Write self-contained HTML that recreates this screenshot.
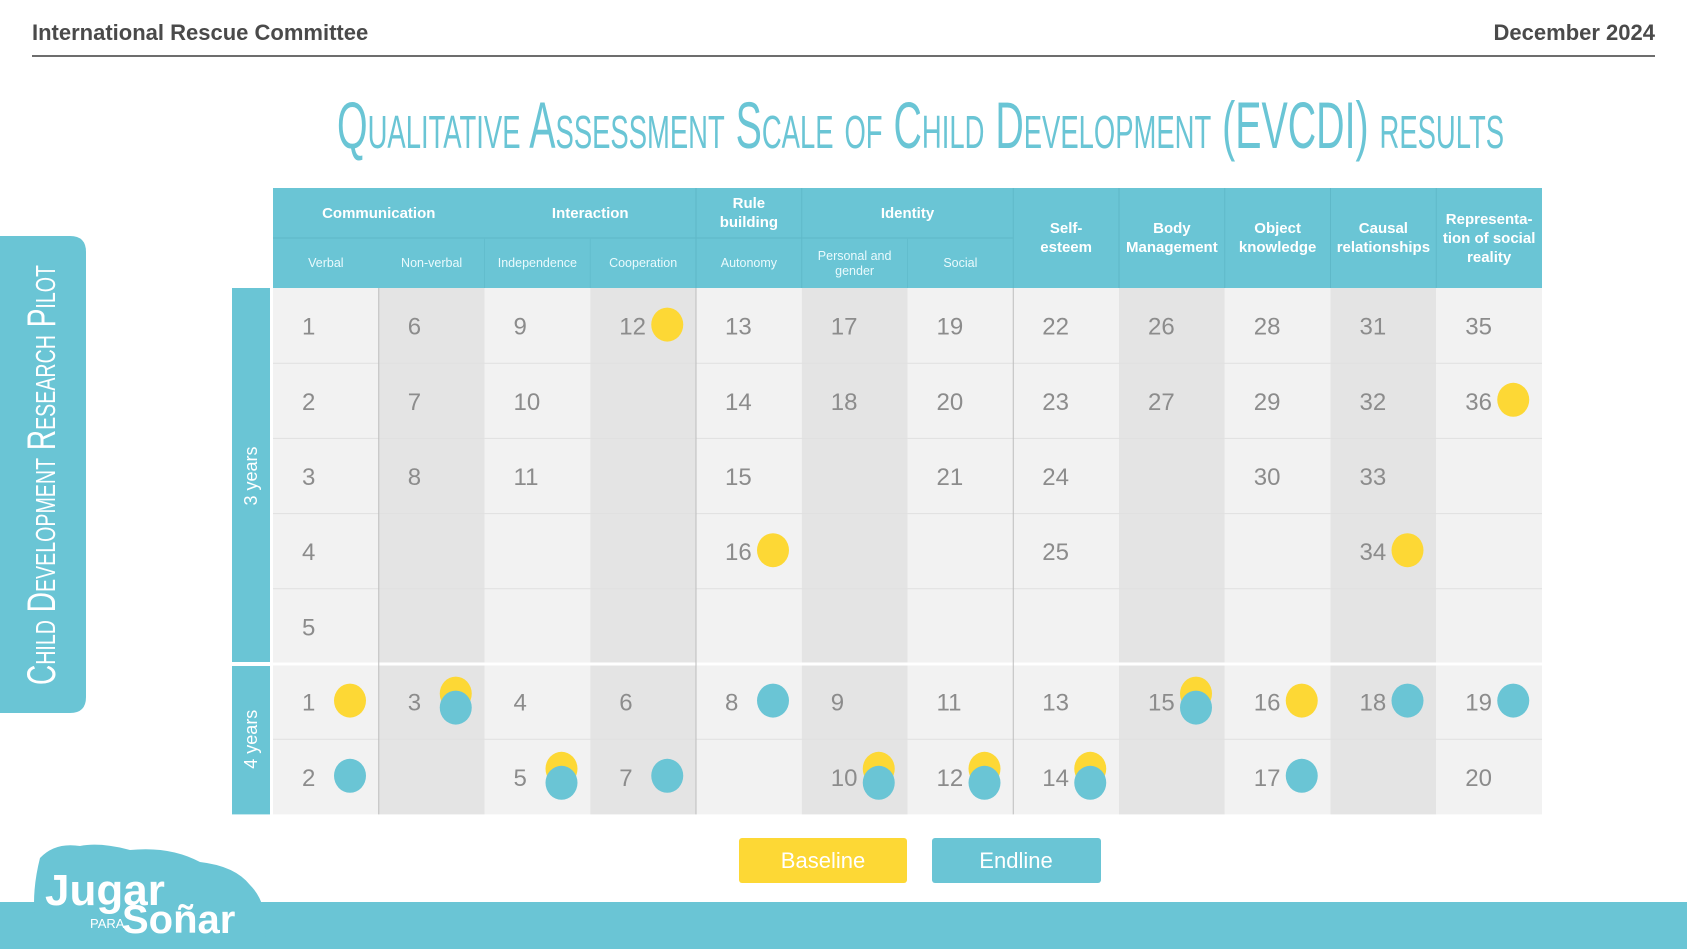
<!DOCTYPE html>
<html><head><meta charset="utf-8"><style>
html,body{margin:0;padding:0;background:#fff;width:1687px;height:949px;overflow:hidden;font-family:"Liberation Sans",sans-serif}
svg{display:block}
</style></head><body>
<svg id="s" width="1687" height="949" viewBox="0 0 1687 949" xmlns="http://www.w3.org/2000/svg">
<text x="32" y="40" font-size="22" font-weight="bold" fill="#4a4a4a">International Rescue Committee</text>
<text x="1655" y="40" font-size="22" font-weight="bold" fill="#4a4a4a" text-anchor="end">December 2024</text>
<rect x="32" y="55" width="1623" height="2" fill="#6d6d6d"/>
<text x="337" y="148" font-size="66" fill="#6ac5d5" textLength="1167" lengthAdjust="spacingAndGlyphs" style="font-variant:small-caps">Qualitative Assessment Scale of Child Development (EVCDI) results</text>
<path d="M0 236 H70 Q86 236 86 252 V697 Q86 713 70 713 H0 Z" fill="#6ac5d5"/>
<text transform="translate(55,685) rotate(-90)" font-size="40" fill="#fff" textLength="420" lengthAdjust="spacingAndGlyphs" style="font-variant:small-caps">Child Development Research Pilot</text>
<rect x="0" y="902" width="1687" height="47" fill="#6ac5d5"/>
<path d="M40 945 Q28 905 40 858 Q55 842 80 846 Q100 842 130 850 Q170 846 200 862 Q235 866 250 885 Q270 905 265 945 Z" fill="#6ac5d5"/>
<text x="45" y="905" font-size="44" font-weight="bold" fill="#fff">Jugar</text>
<text x="90" y="928" font-size="13" fill="#fff">PARA</text>
<text x="122" y="933" font-size="40" font-weight="bold" fill="#fff">Soñar</text>
<g id="tbl"></g>
<rect x="739" y="838" width="168" height="45" rx="3" fill="#fdd835"/>
<text x="823" y="868" font-size="22" fill="#fff" text-anchor="middle">Baseline</text>
<rect x="932" y="838" width="169" height="45" rx="3" fill="#6ac5d5"/>
<text x="1016" y="868" font-size="22" fill="#fff" text-anchor="middle">Endline</text>
</svg>
<script>
const columns=["Verbal","Non-verbal","Independence","Cooperation","Autonomy","Personal and gender","Social","Self-esteem","Body Management","Object knowledge","Causal relationships","Representation of social reality"];
const groups=[["Communication",0,2],["Interaction",2,4],["Rule building",4,5],["Identity",5,7]];
const fullHeaders=[[7,["Self-","esteem"]],[8,["Body","Management"]],[9,["Object","knowledge"]],[10,["Causal","relationships"]],[11,["Representa-","tion of social","reality"]]];
const shade=[0,1,0,1,0,1,0,0,1,0,1,0];
// items: [number, status] status: "" none, "B" baseline, "E" endline, "BE" both
const items3=[[[1,""],[2,""],[3,""],[4,""],[5,""]],[[6,""],[7,""],[8,""]],[[9,""],[10,""],[11,""]],[[12,"B"]],[[13,""],[14,""],[15,""],[16,"B"]],[[17,""],[18,""]],[[19,""],[20,""],[21,""]],[[22,""],[23,""],[24,""],[25,""]],[[26,""],[27,""]],[[28,""],[29,""],[30,""]],[[31,""],[32,""],[33,""],[34,"B"]],[[35,""],[36,"B"]]];
const items4=[[[1,"B"],[2,"E"]],[[3,"BE"]],[[4,""],[5,"BE"]],[[6,""],[7,"E"]],[[8,"E"]],[[9,""],[10,"BE"]],[[11,""],[12,"BE"]],[[13,""],[14,"BE"]],[[15,"BE"]],[[16,"B"],[17,"E"]],[[18,"E"]],[[19,"E"],[20,""]]];
const rows3=5, rows4=2;
const X0=273,CW=105.75,HT=188,HM=238,HB=288,RH=75.2;
const g=document.getElementById('tbl');const NS="http://www.w3.org/2000/svg";
function mk(t,a,txt){const e=document.createElementNS(NS,t);for(const k in a)e.setAttribute(k,a[k]);if(txt!=null)e.textContent=txt;g.appendChild(e);return e;}
const cx=i=>X0+i*CW;
const ry=r=>HB+r*RH;
const T="#6ac5d5",Y="#fdd835";
// header background
let h=mk('rect',{x:X0,y:HT,width:CW*12,height:HB-HT,fill:T});


mk('line',{x1:X0,x2:cx(7),y1:HM,y2:HM,stroke:"#5fb8c8","stroke-width":1});
[4,5,7,8,9,10,11].forEach(i=>mk('line',{x1:cx(i),x2:cx(i),y1:HT,y2:HB,stroke:"#5fb8c8","stroke-width":1}));
[2,3,6].forEach(i=>mk('line',{x1:cx(i),x2:cx(i),y1:HM,y2:HB,stroke:"#62bdcd","stroke-width":1}));
groups.forEach(([name,a,b])=>{const mid=(cx(a)+cx(b))/2;const parts=name==="Rule building"?["Rule","building"]:[name];
 parts.forEach((p,k)=>{const t=mk('text',{x:mid,y:parts.length>1?208+k*19:218,"font-size":15,"font-weight":"bold",fill:"#fff","text-anchor":"middle"},p);
 
 });});
columns.forEach((c,i)=>{if(i>6)return;const mid=cx(i)+CW/2;const parts=c==="Personal and gender"?["Personal and","gender"]:[c];
 parts.forEach((p,k)=>{const t=mk('text',{x:mid,y:parts.length>1?260+k*15:267,"font-size":12.5,fill:"#eafafd","text-anchor":"middle"},p);
 
 });});
fullHeaders.forEach(([i,lines])=>{const mid=cx(i)+CW/2;const y0=lines.length>2?224:233;
 lines.forEach((p,k)=>{const t=mk('text',{x:mid,y:y0+k*19,"font-size":15,"font-weight":"bold",fill:"#fff","text-anchor":"middle"},p);
 
 });});
// body cells
const totalRows=rows3+rows4;
columns.forEach((c,i)=>{const r=mk('rect',{x:cx(i),y:HB,width:CW,height:RH*totalRows,fill:shade[i]?"#e4e4e4":"#f2f2f2"});
 
 });
for(let r=1;r<totalRows;r++){if(r===rows3)continue;mk('line',{x1:X0,x2:cx(12),y1:ry(r),y2:ry(r),stroke:"#e0e0e0","stroke-width":1});}
mk('rect',{x:X0,y:ry(rows3)-1.5,width:CW*12,height:3,fill:"#fff"});
[1,4,7].forEach(i=>mk('line',{x1:cx(i),x2:cx(i),y1:HB,y2:ry(totalRows),stroke:"#bdbdbd","stroke-width":1}));
// age bands
[["3 years",0,rows3],["4 years",rows3,totalRows]].forEach(([lab,a,b])=>{
 const r=mk('rect',{x:232,y:ry(a)+(a?2:0),width:38,height:(b-a)*RH-(a?2:0)-(b===rows3?2:0),fill:T});
 
 
 const m=(ry(a)+ry(b))/2;
 const t=mk('text',{transform:`translate(257,${m}) rotate(-90)`,"font-size":18,fill:"#fff","text-anchor":"middle"},lab);
 
 });
function drawItems(set,rowOff){set.forEach((list,i)=>{list.forEach(([n,st],k)=>{
 const yc=ry(rowOff+k)+RH/2;
 const t=mk('text',{x:cx(i)+29,y:yc+9,"font-size":24,fill:"#8c8c8c"},String(n));
 
 
 const dx=cx(i)+77;
 if(st==="B"){const d=mk('ellipse',{cx:dx,cy:yc-1,rx:16,ry:17,fill:Y});
  
  }
 if(st==="E"){const d=mk('ellipse',{cx:dx,cy:yc-1,rx:16,ry:17,fill:T});
  
  }
 if(st==="BE"){const d=mk('ellipse',{cx:dx,cy:yc-8,rx:16,ry:17,fill:Y});
  
  
  const e=mk('ellipse',{cx:dx,cy:yc+6,rx:16,ry:17,fill:T});
  
  }
});});}
drawItems(items3,0);drawItems(items4,rows3);
</script>
</body></html>
